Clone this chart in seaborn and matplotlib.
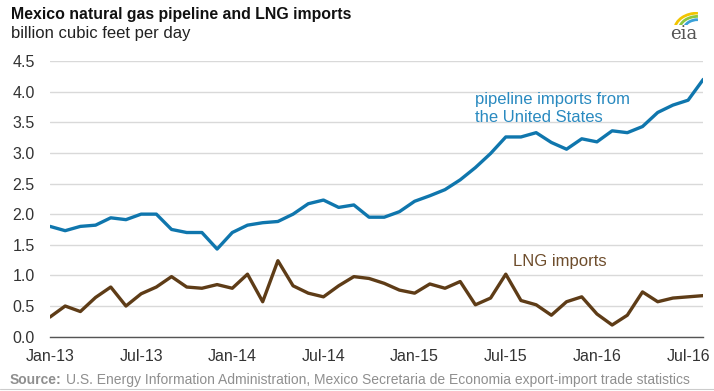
import numpy as np
import pandas as pd
import matplotlib
matplotlib.use("Agg")
import matplotlib.pyplot as plt
from matplotlib.patches import Arc
import seaborn as sns

# Monthly values, Jan-2013 through Aug-2016 (billion cubic feet per day)
months = pd.date_range("2013-01-01", "2016-08-01", freq="MS").strftime("%b-%y").tolist()
pipeline = [1.80, 1.73, 1.80, 1.82, 1.94, 1.91, 2.00, 2.00, 1.75, 1.70, 1.70, 1.43,
            1.70, 1.82, 1.86, 1.88, 2.00, 2.17, 2.23, 2.11, 2.15, 1.95, 1.95, 2.04,
            2.21, 2.30, 2.40, 2.56, 2.76, 2.99, 3.26, 3.26, 3.33, 3.17, 3.06, 3.23,
            3.18, 3.36, 3.33, 3.43, 3.66, 3.78, 3.86, 4.20]
lng = [0.32, 0.50, 0.41, 0.64, 0.81, 0.50, 0.70, 0.81, 0.98, 0.81, 0.79, 0.85,
       0.79, 1.02, 0.57, 1.24, 0.83, 0.71, 0.65, 0.83, 0.98, 0.95, 0.87, 0.76,
       0.71, 0.86, 0.79, 0.90, 0.52, 0.63, 1.02, 0.59, 0.52, 0.35, 0.57, 0.65,
       0.37, 0.19, 0.35, 0.73, 0.57, 0.63, 0.65, 0.67]
tick_labels = ["Jan-13", "Jul-13", "Jan-14", "Jul-14", "Jan-15", "Jul-15", "Jan-16", "Jul-16"]
y_ticks = [0.0, 0.5, 1.0, 1.5, 2.0, 2.5, 3.0, 3.5, 4.0, 4.5]

BLUE = "#0f76ad"
BLUE_TXT = "#2a8ac0"
BROWN = "#5e3c17"
BROWN_TXT = "#6e4d2c"
GRID = "#d9d9d9"
TXT = "#333333"
SRC = "#8f8f8f"

sns.set_style("white")
plt.rcParams["font.family"] = ["Liberation Sans", "DejaVu Sans"]

df = pd.DataFrame({
    "month": np.arange(len(months)),
    "label": months,
    "pipeline": pipeline,
    "lng": lng,
})

fig = plt.figure(figsize=(7.14, 3.91), dpi=100)
ax = fig.add_axes([0.070, 0.139, 0.915, 0.705])

sns.lineplot(data=df, x="month", y="pipeline", ax=ax, color=BLUE, linewidth=2.4)
sns.lineplot(data=df, x="month", y="lng", ax=ax, color=BROWN, linewidth=2.4)

ax.set_xlim(0, len(months) - 1)
ax.set_ylim(0, 4.5)
ax.set_yticks(y_ticks)
ax.set_yticklabels([f"{v:.1f}" for v in y_ticks])
tick_pos = [months.index(t) for t in tick_labels]
ax.set_xticks(tick_pos)
ax.set_xticklabels(tick_labels)
ax.set_xlabel("")
ax.set_ylabel("")

ax.yaxis.grid(True, color=GRID, linewidth=1.0)
ax.set_axisbelow(True)
for side in ["top", "right", "left"]:
    ax.spines[side].set_visible(False)
ax.spines["bottom"].set_color("#555555")
ax.spines["bottom"].set_linewidth(1.0)
ax.tick_params(axis="y", length=0, pad=11, labelsize=11.5, labelcolor=TXT)
ax.tick_params(axis="x", length=5, width=1, color="#555555", direction="out",
               pad=4, labelsize=11.5, labelcolor=TXT)

# Series labels
ax.text(28.0, 3.99, "pipeline imports from\nthe United States", color=BLUE_TXT,
        fontsize=12, va="top", ha="left", linespacing=1.2)
ax.text(30.45, 1.22, "LNG imports", color=BROWN_TXT, fontsize=12,
        va="center", ha="left")

# Title block
fig.text(0.016, 0.962, "Mexico natural gas pipeline and LNG imports", fontsize=11.4,
         fontweight="bold", color="#111111", va="center", ha="left")
fig.text(0.016, 0.914, "billion cubic feet per day", fontsize=12,
         color="#222222", va="center", ha="left")

# eia mark
fig.text(0.958, 0.913, "eia", fontsize=13, family="DejaVu Serif", color="#555555",
         va="center", ha="center")
logo_ax = fig.add_axes([0.935, 0.935, 0.05, 0.035])
logo_ax.set_xlim(0, 1)
logo_ax.set_ylim(0, 1)
logo_ax.axis("off")
for r, c in [(1.0, "#f2c500"), (0.8, "#8dc63f"), (0.6, "#3aa0d8")]:
    logo_ax.add_patch(Arc((0.85, -0.3), 1.3 * r, 2.4 * r, theta1=90, theta2=175,
                          color=c, linewidth=2.0))

# Source line: bold lead-in followed by the citation
src_lead = fig.text(0.014, 0.028, "Source:", fontsize=10, fontweight="bold",
                    color=SRC, va="center", ha="left")
fig.canvas.draw()
bb = src_lead.get_window_extent(renderer=fig.canvas.get_renderer())
x_next = (bb.x1 + 4) / fig.bbox.width
fig.text(x_next, 0.028,
         "U.S. Energy Information Administration, Mexico Secretaria de Economia export-import trade statistics",
         fontsize=10, color=SRC, va="center", ha="left")
fig.add_artist(plt.Line2D([0.0, 1.0], [0.006, 0.006], color="#cccccc", linewidth=0.8))

fig.savefig("out.png", dpi=100)
